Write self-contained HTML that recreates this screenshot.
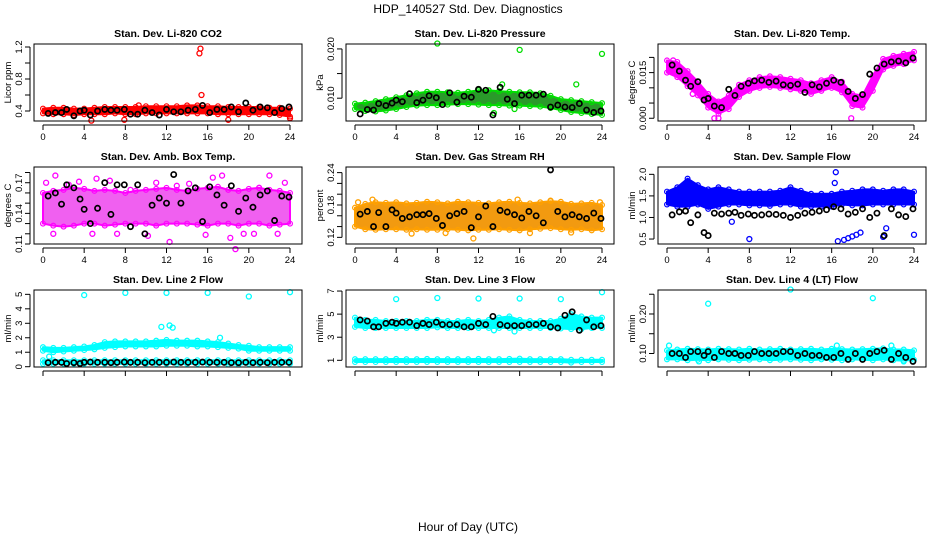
<!DOCTYPE html>
<html><head><meta charset="utf-8">
<style>
html,body{margin:0;padding:0;background:#fff;}
svg{display:block;font-family:"Liberation Sans",sans-serif;}
</style></head>
<body>
<svg id="chart" width="936" height="540" viewBox="0 0 936 540">
<text x="468" y="13" text-anchor="middle" font-size="12">HDP_140527  Std. Dev. Diagnostics</text>
<text x="468" y="531" text-anchor="middle" font-size="12">Hour of Day (UTC)</text>
</svg>
<script>
const bandHours = [0,1,2,3,4,5,6,7,8,9,10,11,12,13,14,15,16,17,18,19,20,21,22,23,24];
const blackHours = [0.5,1.2,1.8,2.3,3,3.6,4,4.6,5.3,6,6.6,7.2,7.9,8.5,9.2,9.9,10.6,11.3,12,12.7,13.4,14.1,14.8,15.5,16.2,16.9,17.6,18.3,19,19.7,20.4,21.1,21.8,22.5,23.2,23.9];
const xTicks = [0,4,8,12,16,20,24];

const co2Lo = [0.37,0.36,0.36,0.35,0.36,0.36,0.36,0.37,0.36,0.36,0.37,0.37,0.37,0.37,0.37,0.37,0.37,0.36,0.36,0.36,0.36,0.36,0.36,0.35,0.33];
const co2Hi = [0.43,0.44,0.44,0.43,0.43,0.44,0.45,0.45,0.45,0.45,0.46,0.46,0.46,0.46,0.47,0.47,0.46,0.46,0.45,0.45,0.45,0.45,0.44,0.44,0.43];
const co2OutX = [15.3,15.2,15.4,15.5,7.9,4.7,18,24,9.3];
const co2OutY = [1.18,1.12,0.6,0.47,0.29,0.28,0.29,0.31,0.47];
const co2Black = [0.37,0.38,0.38,0.42,0.34,0.4,0.41,0.35,0.4,0.42,0.41,0.41,0.42,0.36,0.36,0.41,0.38,0.35,0.42,0.39,0.39,0.41,0.42,0.47,0.38,0.42,0.42,0.45,0.39,0.5,0.41,0.45,0.44,0.38,0.43,0.45];

const presLo = [0.0078,0.0074,0.0073,0.0075,0.0078,0.0082,0.0085,0.0086,0.0086,0.0087,0.0088,0.0088,0.0087,0.0086,0.0086,0.0085,0.0085,0.0084,0.0083,0.0080,0.0076,0.0072,0.0070,0.0068,0.0066];
const presHi = [0.0089,0.0091,0.0094,0.0098,0.0102,0.0106,0.0110,0.0113,0.0113,0.0112,0.0111,0.0113,0.0116,0.0116,0.0114,0.0113,0.0112,0.0112,0.0110,0.0105,0.0098,0.0096,0.0094,0.0092,0.0090];
const presOutX = [8,16,24,21.5,14.3,13.5,15.5];
const presOutY = [0.0211,0.0198,0.0190,0.0128,0.0128,0.0070,0.0078];
const presBlack = [0.0068,0.0077,0.0076,0.0089,0.0085,0.009,0.0096,0.0093,0.0109,0.0091,0.0096,0.0105,0.0101,0.0087,0.0111,0.0092,0.0104,0.0102,0.0118,0.0116,0.0066,0.0122,0.0098,0.0089,0.0106,0.0106,0.0106,0.0108,0.0082,0.0086,0.0082,0.0081,0.0089,0.0076,0.0071,0.0074];

const tempLo = [0.0150,0.0135,0.0105,0.0075,0.0035,0.0015,0.0030,0.0070,0.0090,0.0100,0.0103,0.0100,0.0095,0.0090,0.0080,0.0090,0.0100,0.0085,0.0040,0.0035,0.0090,0.0160,0.0172,0.0178,0.0190];
const tempHi = [0.0190,0.0185,0.0155,0.0120,0.0080,0.0055,0.0075,0.0110,0.0125,0.0135,0.0138,0.0135,0.0130,0.0125,0.0115,0.0125,0.0135,0.0120,0.0080,0.0075,0.0140,0.0195,0.0205,0.0212,0.0218];
const tempOutX = [0.6,4.6,5,17.9,1.8,2.5];
const tempOutY = [0.019,0.0,0.0,0.0,0.0135,0.008];
const tempBlack = [0.0175,0.0155,0.0125,0.0105,0.012,0.006,0.0065,0.004,0.0035,0.0095,0.0075,0.0105,0.0115,0.0123,0.0125,0.0118,0.0122,0.011,0.0108,0.0112,0.0085,0.011,0.0103,0.0115,0.0125,0.0118,0.0088,0.0065,0.0078,0.0145,0.0165,0.0178,0.0185,0.0188,0.0182,0.0198];

const ambLo = [0.13,0.128,0.127,0.128,0.13,0.13,0.128,0.129,0.13,0.13,0.13,0.128,0.13,0.13,0.13,0.129,0.128,0.13,0.13,0.128,0.13,0.13,0.128,0.129,0.13];
const ambHi = [0.16,0.162,0.163,0.165,0.164,0.162,0.163,0.162,0.16,0.162,0.163,0.164,0.165,0.163,0.162,0.164,0.165,0.166,0.163,0.162,0.164,0.165,0.163,0.162,0.16];
const ambOutX = [0.3,1.2,2.5,3.5,5.2,6.5,8.5,9.9,11,13,14.2,16.5,17.4,18.7,19.5,21,22,23.5,1,4.8,7.2,10.2,12.3,15.8,18.2,20.5,22.8];
const ambOutY = [0.17,0.177,0.168,0.171,0.174,0.172,0.163,0.12,0.17,0.167,0.169,0.175,0.177,0.105,0.12,0.165,0.177,0.17,0.12,0.12,0.12,0.118,0.112,0.119,0.116,0.12,0.12];
const ambBlack = [0.157,0.16,0.149,0.168,0.165,0.154,0.144,0.13,0.145,0.17,0.139,0.168,0.168,0.127,0.168,0.12,0.148,0.155,0.15,0.178,0.15,0.162,0.165,0.132,0.166,0.158,0.148,0.167,0.142,0.155,0.146,0.158,0.162,0.133,0.157,0.156];

const rhLo = [0.14,0.135,0.134,0.135,0.135,0.134,0.135,0.134,0.134,0.135,0.134,0.133,0.134,0.134,0.135,0.134,0.133,0.135,0.136,0.137,0.135,0.134,0.135,0.133,0.135];
const rhHi = [0.175,0.182,0.185,0.184,0.185,0.183,0.184,0.186,0.185,0.183,0.186,0.185,0.184,0.183,0.185,0.186,0.184,0.183,0.185,0.187,0.186,0.182,0.183,0.184,0.18];
const rhOutX = [0.3,1.7,8.8,11.5,15.8,19,23.8,5.5,17,21];
const rhOutY = [0.185,0.19,0.128,0.118,0.19,0.188,0.185,0.127,0.128,0.129];
const rhBlack = [0.163,0.168,0.14,0.166,0.14,0.171,0.165,0.155,0.158,0.162,0.162,0.164,0.155,0.142,0.16,0.164,0.168,0.138,0.158,0.178,0.14,0.17,0.167,0.162,0.156,0.168,0.16,0.147,0.245,0.168,0.158,0.162,0.158,0.155,0.165,0.155];

const sfLo = [1.3,1.25,1.25,1.3,1.2,1.25,1.3,1.3,1.28,1.28,1.27,1.3,1.3,1.25,1.25,1.25,1.25,1.3,1.28,1.28,1.3,1.3,1.3,1.3,1.3];
const sfHi = [1.6,1.7,1.9,1.75,1.65,1.7,1.65,1.6,1.6,1.6,1.6,1.62,1.7,1.62,1.55,1.55,1.55,1.6,1.62,1.65,1.65,1.62,1.65,1.65,1.6];
const sfOutX = [16.4,16.3,16.6,17.2,17.6,18,18.4,18.8,8,24,21,21.3,6.3,2.5,2.2];
const sfOutY = [2.05,1.8,0.45,0.48,0.52,0.56,0.6,0.65,0.5,0.6,0.55,0.75,0.9,1.4,1.8];
const sfBlack = [1.06,1.13,1.15,0.88,1.06,0.65,0.58,1.1,1.08,1.1,1.12,1.05,1.08,1.05,1.06,1.08,1.07,1.05,1.0,1.05,1.1,1.12,1.15,1.18,1.25,1.2,1.08,1.12,1.2,1.0,1.1,0.58,1.2,1.06,1.02,1.2];

const l2Lo = [1.1,1.0,1.05,1.1,1.15,1.2,1.3,1.35,1.4,1.4,1.4,1.4,1.45,1.45,1.45,1.4,1.4,1.35,1.3,1.25,1.1,1.1,1.1,1.1,1.1];
const l2Hi = [1.35,1.3,1.3,1.35,1.4,1.5,1.7,1.75,1.75,1.75,1.75,1.8,1.85,1.8,1.8,1.8,1.75,1.7,1.6,1.5,1.45,1.35,1.35,1.35,1.35];
const l2Lo2 = [0.2,0.2,0.2,0.2,0.2,0.2,0.2,0.2,0.2,0.2,0.2,0.2,0.2,0.2,0.2,0.2,0.2,0.2,0.15,0.15,0.2,0.2,0.2,0.2,0.2];
const l2Hi2 = [0.45,0.45,0.45,0.45,0.45,0.45,0.45,0.45,0.45,0.45,0.45,0.45,0.45,0.45,0.45,0.45,0.45,0.45,0.45,0.45,0.45,0.45,0.45,0.45,0.45];
const l2OutX = [4,8,12,16,20,24,11.5,12.3,12.6,17.2,0.6];
const l2OutY = [4.95,5.1,5.1,5.1,4.85,5.15,2.75,2.85,2.7,2.0,0.7];
const l2Black = [0.28,0.3,0.3,0.22,0.28,0.22,0.3,0.32,0.3,0.3,0.28,0.3,0.32,0.3,0.3,0.28,0.3,0.3,0.3,0.32,0.3,0.3,0.3,0.32,0.3,0.3,0.3,0.28,0.28,0.3,0.28,0.3,0.28,0.3,0.3,0.3];

const l3Lo = [3.9,3.8,3.8,3.8,3.8,3.8,3.8,3.8,3.85,3.8,3.8,3.8,3.8,3.8,3.8,3.8,3.8,3.8,3.8,3.8,3.75,3.7,3.7,3.8,3.8];
const l3Hi = [4.7,4.5,4.5,4.4,4.4,4.4,4.4,4.5,4.5,4.4,4.4,4.5,4.4,4.5,4.7,4.8,4.5,4.4,4.4,4.4,4.6,5.0,4.8,4.7,4.7];
const l3Lo2 = [0.85,0.85,0.85,0.85,0.85,0.85,0.85,0.85,0.85,0.85,0.85,0.85,0.85,0.85,0.85,0.85,0.85,0.85,0.85,0.85,0.85,0.8,0.85,0.85,0.85];
const l3Hi2 = [1.1,1.1,1.1,1.1,1.12,1.1,1.1,1.12,1.1,1.1,1.1,1.1,1.12,1.1,1.1,1.12,1.15,1.1,1.1,1.1,1.1,1.05,1.05,1.05,1.05];
const l3OutX = [4,8,12,16,20,24,13.5,15.5];
const l3OutY = [6.3,6.4,6.35,6.35,6.3,6.9,3.6,3.5];
const l3Black = [4.5,4.4,3.9,3.9,4.2,4.3,4.2,4.3,4.3,4.0,4.2,4.1,4.3,4.1,4.1,4.1,3.9,3.9,4.2,4.1,4.8,4.1,4.0,4.0,4.0,4.1,4.1,4.2,3.9,3.8,4.9,5.2,3.6,4.5,3.9,4.0];

const l4Lo = [0.085,0.085,0.083,0.084,0.083,0.085,0.084,0.083,0.084,0.085,0.083,0.084,0.085,0.084,0.083,0.085,0.084,0.083,0.085,0.084,0.083,0.085,0.083,0.082,0.084];
const l4Hi = [0.108,0.11,0.112,0.111,0.11,0.112,0.111,0.11,0.112,0.11,0.111,0.112,0.11,0.111,0.112,0.11,0.112,0.111,0.11,0.111,0.112,0.113,0.11,0.11,0.108];
const l4OutX = [4,12,20,0.2,3.1,21.8,23,16.5];
const l4OutY = [0.226,0.262,0.24,0.12,0.08,0.12,0.08,0.12];
const l4Black = [0.1,0.1,0.09,0.105,0.105,0.095,0.105,0.09,0.105,0.1,0.1,0.095,0.095,0.105,0.1,0.1,0.1,0.105,0.105,0.095,0.1,0.095,0.095,0.09,0.09,0.1,0.085,0.1,0.085,0.1,0.105,0.108,0.085,0.1,0.09,0.08];

const co2Ticks=[0.4,0.6,0.8,1.0,1.2], co2Labels=["0.4","","0.8","","1.2"];
const presTicks=[0.010,0.015,0.020], presLabels=["0.010","","0.020"];
const tempTicks=[0,0.005,0.010,0.015,0.020], tempLabels=["0.000","","","0.015",""];
const ambTicks=[0.11,0.12,0.13,0.14,0.15,0.16,0.17,0.18], ambLabels=["0.11","","","0.14","","","0.17",""];
const rhTicks=[0.12,0.14,0.16,0.18,0.20,0.22,0.24], rhLabels=["0.12","","","0.18","","","0.24"];
const sfTicks=[0.5,1.0,1.5,2.0], sfLabels=["0.5","1.0","1.5","2.0"];
const l2Ticks=[0,1,2,3,4,5], l2Labels=["0","1","2","3","4","5"];
const l3Ticks=[1,3,5,7], l3Labels=["1","3","5","7"];
const l4Ticks=[0.10,0.15,0.20,0.25], l4Labels=["0.10","","0.20",""];

const NS="http://www.w3.org/2000/svg";
const svg=document.getElementById('chart');
function mk(tag,attrs,parent){const e=document.createElementNS(NS,tag);for(const k in attrs)e.setAttribute(k,attrs[k]);(parent||svg).appendChild(e);return e;}

const colX=[34,346,658], rowY=[44,167,290], boxW=268, boxH=77;

function panel(o){
  const bx=colX[o.col], by=rowY[o.row];
  const g=mk('g',{});
  
  
  const xs=t=>bx+9+t*(247/24);
  const ys=v=>by+boxH-(v-o.ymin)/(o.ymax-o.ymin)*boxH;
  const t=mk('text',{x:bx+boxW/2,y:by-7,'text-anchor':'middle','font-size':'10.5','font-weight':'bold'},g);
  t.textContent=o.title;
  
  
  const yl=mk('text',{x:0,y:0,'text-anchor':'middle','font-size':'9.5',transform:`translate(${bx-23},${by+boxH/2}) rotate(-90)`},g);
  yl.textContent=o.ylabel;
  
  
  const drawBand=(lo,hi)=>{
    let pts=bandHours.map((h,i)=>xs(h)+','+ys(hi[i]));
    pts=pts.concat(bandHours.slice().reverse().map((h,j)=>{const i=bandHours.length-1-j;return xs(h)+','+ys(lo[i]);}));
    const p=mk('polygon',{points:pts.join(' '),fill:o.fill,stroke:o.color,'stroke-width':'2','stroke-linejoin':'round'},g);
    
    
    bandHours.forEach((h,i)=>{
      [lo[i],hi[i]].forEach(v=>{
        const c=mk('circle',{cx:xs(h),cy:ys(v),r:2.4,fill:'none',stroke:o.color,'stroke-width':1.2},g);
        
        
      });
    });
  };
  drawBand(o.lo,o.hi);
  if(o.lo2) drawBand(o.lo2,o.hi2);
  o.outX.forEach((x,i)=>{
    const c=mk('circle',{cx:xs(x),cy:ys(o.outY[i]),r:2.5,fill:'none',stroke:o.color,'stroke-width':1.3},g);
    
    
  });
  blackHours.forEach((h,i)=>{
    const c=mk('circle',{cx:xs(h),cy:ys(o.black[i]),r:2.6,fill:'none',stroke:'#000','stroke-width':1.7},g);
    
    
  });
  const box=mk('rect',{x:bx,y:by,width:boxW,height:boxH,fill:'none',stroke:'#000','stroke-width':1},g);
  
  
  const xa=mk('g',{},g);
  
  
  mk('line',{x1:xs(0),x2:xs(24),y1:by+boxH+4,y2:by+boxH+4,stroke:'#000'},xa);
  xTicks.forEach(v=>{
    mk('line',{x1:xs(v),x2:xs(v),y1:by+boxH+4,y2:by+boxH+9,stroke:'#000'},xa);
    if(o.row<2){const tl=mk('text',{x:xs(v),y:by+boxH+19,'text-anchor':'middle','font-size':'9.5'},xa);tl.textContent=v;}
  });
  const ya=mk('g',{},g);
  
  
  mk('line',{x1:bx-4,x2:bx-4,y1:ys(o.ticks[0]),y2:ys(o.ticks[o.ticks.length-1]),stroke:'#000'},ya);
  o.ticks.forEach((v,i)=>{
    mk('line',{x1:bx-4,x2:bx-9,y1:ys(v),y2:ys(v),stroke:'#000'},ya);
    if(o.labels[i]){const tl=mk('text',{x:0,y:0,'text-anchor':'middle','font-size':'9.5',transform:`translate(${bx-12},${ys(v)}) rotate(-90)`},ya);tl.textContent=o.labels[i];}
  });
}

panel({name:'co2',col:0,row:0,title:'Stan. Dev. Li-820 CO2',ylabel:'Licor ppm',ymin:0.275,ymax:1.2375,color:'#ff0000',fill:'#ff0000',lo:co2Lo,hi:co2Hi,outX:co2OutX,outY:co2OutY,black:co2Black,ticks:co2Ticks,labels:co2Labels});
panel({name:'pressure',col:1,row:0,title:'Stan. Dev. Li-820 Pressure',ylabel:'kPa',ymin:0.00537,ymax:0.0210,color:'#00dd00',fill:'#2a9a2a',lo:presLo,hi:presHi,outX:presOutX,outY:presOutY,black:presBlack,ticks:presTicks,labels:presLabels});
panel({name:'temp',col:2,row:0,title:'Stan. Dev. Li-820 Temp.',ylabel:'degrees C',ymin:-0.0009,ymax:0.0244,color:'#ff00ff',fill:'#ff00ff',lo:tempLo,hi:tempHi,outX:tempOutX,outY:tempOutY,black:tempBlack,ticks:tempTicks,labels:tempLabels});
panel({name:'amb-box-temp',col:0,row:1,title:'Stan. Dev. Amb. Box Temp.',ylabel:'degrees C',ymin:0.11,ymax:0.1854,color:'#ff00ff',fill:'#f060f0',lo:ambLo,hi:ambHi,outX:ambOutX,outY:ambOutY,black:ambBlack,ticks:ambTicks,labels:ambLabels});
panel({name:'gas-rh',col:1,row:1,title:'Stan. Dev. Gas Stream RH',ylabel:'percent',ymin:0.1077,ymax:0.2504,color:'#ffa000',fill:'#f29a10',lo:rhLo,hi:rhHi,outX:rhOutX,outY:rhOutY,black:rhBlack,ticks:rhTicks,labels:rhLabels});
panel({name:'sample-flow',col:2,row:1,title:'Stan. Dev. Sample Flow',ylabel:'ml/min',ymin:0.385,ymax:2.17,color:'#0000ff',fill:'#0000ff',lo:sfLo,hi:sfHi,outX:sfOutX,outY:sfOutY,black:sfBlack,ticks:sfTicks,labels:sfLabels});
panel({name:'line2-flow',col:0,row:2,title:'Stan. Dev. Line 2 Flow',ylabel:'ml/min',ymin:-0.02,ymax:5.3,color:'#00ffff',fill:'#00ffff',lo:l2Lo,hi:l2Hi,lo2:l2Lo2,hi2:l2Hi2,outX:l2OutX,outY:l2OutY,black:l2Black,ticks:l2Ticks,labels:l2Labels});
panel({name:'line3-flow',col:1,row:2,title:'Stan. Dev. Line 3 Flow',ylabel:'ml/min',ymin:0.42,ymax:7.09,color:'#00ffff',fill:'#00ffff',lo:l3Lo,hi:l3Hi,lo2:l3Lo2,hi2:l3Hi2,outX:l3OutX,outY:l3OutY,black:l3Black,ticks:l3Ticks,labels:l3Labels});
panel({name:'line4-flow',col:2,row:2,title:'Stan. Dev. Line 4 (LT) Flow',ylabel:'ml/min',ymin:0.0658,ymax:0.2607,color:'#00ffff',fill:'#00ffff',lo:l4Lo,hi:l4Hi,outX:l4OutX,outY:l4OutY,black:l4Black,ticks:l4Ticks,labels:l4Labels});
</script>
</body></html>
